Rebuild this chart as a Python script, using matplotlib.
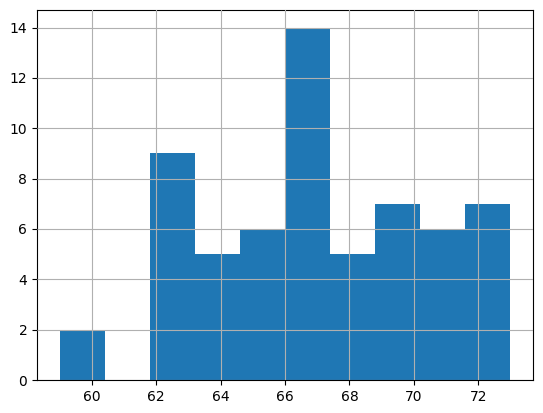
import numpy as np
import matplotlib
matplotlib.use("Agg")
import matplotlib.pyplot as plt

# histogram: 10 bins between 59 and 73
bin_edges = np.linspace(59, 73, 11)
counts = [2, 0, 9, 5, 6, 14, 5, 7, 6, 7]

fig = plt.figure(figsize=(5.43, 4.13), dpi=100)
ax = fig.add_axes([37 / 543, 33 / 413, 496 / 543, 370 / 413])

ax.hist(bin_edges[:-1], bins=bin_edges, weights=counts, color="#1f77b4")
ax.grid(True)
ax.set_axisbelow(False)
ax.set_xticks([60, 62, 64, 66, 68, 70, 72])
ax.set_yticks(range(0, 15, 2))

fig.savefig("out.png", dpi=100)
